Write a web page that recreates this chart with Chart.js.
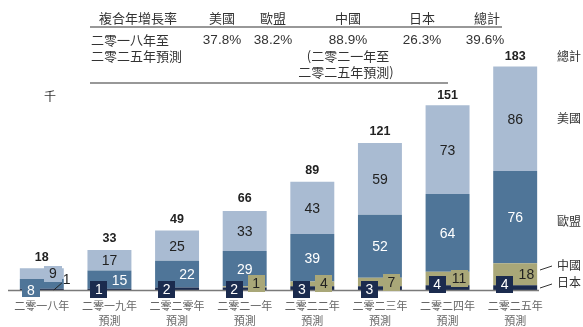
<!DOCTYPE html>
<html lang="zh-HK">
<head>
<meta charset="UTF-8">
<title>複合年增長率</title>
<script src="https://cdn.jsdelivr.net/npm/chart.js"></script>
<style>
  html, body { margin: 0; padding: 0; background: #fff; }
  #wrap { width: 583px; height: 327px; }
</style>
</head>
<body>
<div id="wrap"><canvas id="c" width="583" height="327"></canvas></div>
<script>
  // 年份（兩行）
  const years = [
    ['二零一八年'], ['二零一九年', '預測'], ['二零二零年', '預測'], ['二零二一年', '預測'],
    ['二零二二年', '預測'], ['二零二三年', '預測'], ['二零二四年', '預測'], ['二零二五年', '預測']
  ];
  // 各地區數值（千）
  const japan = [1, 1, 2, 2, 3, 3, 4, 4];
  const china = [0, 0, 0, 1, 4, 7, 11, 18];
  const eu    = [8, 15, 22, 29, 39, 52, 64, 76];
  const usa   = [9, 17, 25, 33, 43, 59, 73, 86];
  const totals = [18, 33, 49, 66, 89, 121, 151, 183];

  // 複合年增長率表
  const cagrHeads = ['美國', '歐盟', '中國', '日本', '總計'];
  const cagrVals  = ['37.8%', '38.2%', '88.9%', '26.3%', '39.6%'];

  const C_US = '#a9bbd2', C_EU = '#4f7598', C_CN = '#a9a778', C_JP = '#1b2b4e';
  const CJK = '"Noto Sans CJK TC", "Noto Sans CJK SC", sans-serif';
  const NUM = '"Liberation Sans", Arial, sans-serif';

  function box(ctx, cx, cy, w, h, fill, txt, color) {
    ctx.fillStyle = fill;
    ctx.fillRect(Math.round(cx - w / 2), Math.round(cy - h / 2), w, h);
    ctx.fillStyle = color;
    ctx.fillText(txt, cx, cy + 1);
  }

  const overlay = {
    id: 'overlay',
    afterDatasetsDraw(chart) {
      const ctx = chart.ctx;
      const ca = chart.chartArea;
      const y = chart.scales.y;
      const base = y.getPixelForValue(0);
      const mJP = chart.getDatasetMeta(0).data;
      const mCN = chart.getDatasetMeta(1).data;
      const mEU = chart.getDatasetMeta(2).data;
      const mUS = chart.getDatasetMeta(3).data;

      ctx.save();
      // 基線
      ctx.strokeStyle = '#7a7a7a';
      ctx.lineWidth = 1.5;
      ctx.beginPath();
      ctx.moveTo(ca.left, base + 0.5);
      ctx.lineTo(ca.right - 10, base + 0.5);
      ctx.stroke();

      ctx.textAlign = 'center';
      ctx.textBaseline = 'middle';

      for (let i = 0; i < years.length; i++) {
        const bar = mUS[i];
        const left = bar.x - bar.width / 2, right = bar.x + bar.width / 2;

        // 總數
        ctx.font = 'bold 12.5px ' + NUM;
        ctx.fillStyle = '#222';
        ctx.fillText(String(totals[i]), bar.x, y.getPixelForValue(totals[i]) - 11);

        ctx.font = '14px ' + NUM;
        // 美國
        const usMid = (mUS[i].y + mUS[i].base) / 2;
        if (mUS[i].base - mUS[i].y < 16) {
          box(ctx, bar.x + 11, usMid, 18, 16, C_US, String(usa[i]), '#222');
        } else {
          ctx.fillStyle = '#222';
          ctx.fillText(String(usa[i]), bar.x, usMid + 1);
        }
        // 歐盟
        const euMid = (mEU[i].y + mEU[i].base) / 2;
        if (mEU[i].base - mEU[i].y < 16) {
          box(ctx, left + 11, base, 18, 14, C_EU, String(eu[i]), '#fff');
        } else {
          ctx.fillStyle = '#fff';
          const dx = (i < 3) ? 10 : 0;
          ctx.fillText(String(eu[i]), bar.x + dx, euMid + 1);
        }
        // 中國
        if (china[i] > 0) {
          const cnMid = (mCN[i].y + mCN[i].base) / 2;
          if (mCN[i].base - mCN[i].y < 14) {
            box(ctx, right - 10.5, Math.min(cnMid, base - 7), 17, 17, C_CN, String(china[i]), '#222');
          } else {
            ctx.fillStyle = '#222';
            ctx.textAlign = 'right';
            ctx.fillText(String(china[i]), right - 3, cnMid + 1);
            ctx.textAlign = 'center';
          }
        }
        // 日本
        if (i === 0) {
          ctx.strokeStyle = '#222';
          ctx.lineWidth = 1;
          ctx.beginPath();
          ctx.moveTo(bar.x + 12, base);
          ctx.lineTo(bar.x + 20, base - 7);
          ctx.stroke();
          ctx.fillStyle = '#222';
          ctx.textAlign = 'left';
          ctx.fillText(String(japan[i]), bar.x + 21, base - 10);
          ctx.textAlign = 'center';
        } else {
          const jpMid = japan[i] >= 4 ? base - 6 : base - 1;
          box(ctx, left + 11.5, jpMid, 17, 17, C_JP, String(japan[i]), '#fff');
        }

        // 年份
        ctx.font = '11px ' + CJK;
        ctx.fillStyle = '#666';
        years[i].forEach((t, k) => ctx.fillText(t, bar.x, 306 + k * 15));
      }

      // 單位
      ctx.font = '12px ' + CJK;
      ctx.fillStyle = '#333';
      ctx.fillText('千', 50, 96);

      // 右側圖例
      const last = years.length - 1;
      const lx = 557;
      ctx.textAlign = 'left';
      ctx.font = '12px ' + CJK;
      ctx.fillStyle = '#333';
      ctx.fillText('總計', lx, y.getPixelForValue(totals[last]) - 11);
      ctx.fillText('美國', lx, (mUS[last].y + mUS[last].base) / 2);
      ctx.fillText('歐盟', lx, (mEU[last].y + mEU[last].base) / 2 + 4);
      ctx.fillText('中國', lx, 265);
      ctx.fillText('日本', lx, 282);
      ctx.strokeStyle = '#333';
      ctx.lineWidth = 1;
      ctx.beginPath();
      ctx.moveTo(540, 270); ctx.lineTo(552, 266);
      ctx.moveTo(540, 288); ctx.lineTo(552, 284);
      ctx.stroke();

      // 複合年增長率表
      ctx.fillStyle = '#333';
      ctx.font = '13px ' + CJK;
      ctx.textAlign = 'left';
      ctx.fillText('複合年增長率', 99, 18);
      ctx.fillText('二零一八年至', 91, 40);
      ctx.fillText('二零二五年預測', 91, 56);
      ctx.textAlign = 'center';
      const colX = [222, 273, 348, 422, 487];
      cagrHeads.forEach((t, k) => ctx.fillText(t, colX[k], 18));
      ctx.font = '13.5px ' + NUM;
      cagrVals.forEach((t, k) => ctx.fillText(t, colX[k] - (k === 4 ? 2 : 0), 40));
      ctx.font = '13px ' + CJK;
      ctx.fillText('(二零二一年至', colX[2], 56);
      ctx.fillText('二零二五年預測)', colX[2] - 2, 72);
      ctx.strokeStyle = '#333';
      ctx.lineWidth = 1.2;
      ctx.beginPath();
      ctx.moveTo(90, 27); ctx.lineTo(502, 27);
      ctx.moveTo(90, 83); ctx.lineTo(448, 83);
      ctx.stroke();
      ctx.restore();
    }
  };

  new Chart(document.getElementById('c'), {
    type: 'bar',
    data: {
      labels: years,
      datasets: [
        { label: '日本', data: japan, backgroundColor: C_JP },
        { label: '中國', data: china, backgroundColor: C_CN },
        { label: '歐盟', data: eu, backgroundColor: C_EU },
        { label: '美國', data: usa, backgroundColor: C_US }
      ]
    },
    options: {
      responsive: false,
      animation: false,
      events: [],
      layout: { padding: { left: 8, right: 34, top: 47, bottom: 37 } },
      datasets: { bar: { categoryPercentage: 1, barPercentage: 0.65, borderWidth: 0 } },
      scales: {
        x: { stacked: true, display: false },
        y: { stacked: true, display: false, min: 0, max: 200 }
      },
      plugins: { legend: { display: false }, tooltip: { enabled: false } }
    },
    plugins: [overlay]
  });
</script>
</body>
</html>
